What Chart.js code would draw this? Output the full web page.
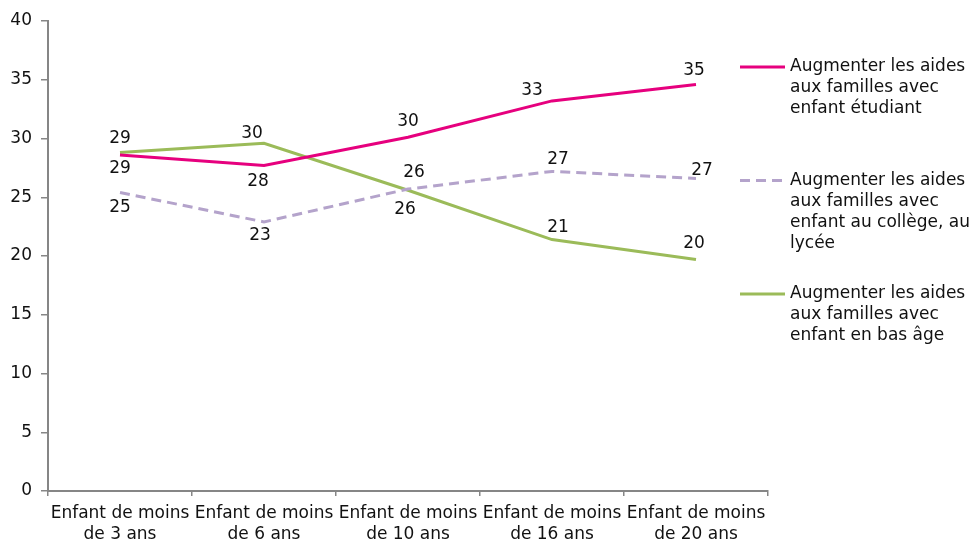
<!DOCTYPE html>
<html>
<head>
<meta charset="utf-8">
<script src="https://cdn.jsdelivr.net/npm/chart.js@4.4.0/dist/chart.umd.min.js"></script>
<style>
  html, body { margin: 0; padding: 0; background: #fff; }
  #wrap { width: 972px; height: 543px; }
</style>
</head>
<body>
<div id="wrap"><canvas id="chart_1" width="972" height="543"></canvas></div>
<script>
// data
const categories = [
    ['Enfant de moins', 'de 3 ans'],
    ['Enfant de moins', 'de 6 ans'],
    ['Enfant de moins', 'de 10 ans'],
    ['Enfant de moins', 'de 16 ans'],
    ['Enfant de moins', 'de 20 ans']
];
const etudiant = [28.6, 27.7, 30.1, 33.2, 34.6];
const college = [25.4, 22.9, 25.7, 27.2, 26.6];
const basAge = [28.8, 29.6, 25.6, 21.4, 19.7];
const seriesNames = [
    ['Augmenter les aides', 'aux familles avec', 'enfant étudiant'],
    ['Augmenter les aides', 'aux familles avec', 'enfant au collège, au', 'lycée'],
    ['Augmenter les aides', 'aux familles avec', 'enfant en bas âge']
];
const yMax = 40, yStep = 5;

const FONT = '"DejaVu Sans", Verdana, sans-serif';
const FSIZE = 17;
const axisColor = '#868686';

// label offsets (dx, dy) from each point
const labelOffsets = [
    [[0, 14], [-6, 16], [0, -16], [-20, -10], [-2, -14]],
    [[0, 15], [-4, 14], [6, -16], [6, -12], [6, -8]],
    [[0, -14], [-12, -10], [-3, 19], [6, -12], [-2, -16]]
];

// value labels drawn on the points
const valueLabels = {
    id: 'valueLabels',
    afterDatasetsDraw(chart) {
        const ctx = chart.ctx;
        ctx.save();
        ctx.font = FSIZE + 'px ' + FONT;
        ctx.fillStyle = '#111';
        ctx.textAlign = 'center';
        ctx.textBaseline = 'middle';
        chart.data.datasets.forEach((ds, d) => {
            chart.getDatasetMeta(d).data.forEach((pt, i) => {
                const off = labelOffsets[d][i];
                ctx.fillText(Math.round(ds.data[i]), pt.x + off[0], pt.y + off[1]);
            });
        });
        ctx.restore();
    }
};

// legend on the right with wrapped text
const sideLegend = {
    id: 'sideLegend',
    afterDraw(chart) {
        const ctx = chart.ctx;
        ctx.save();
        ctx.font = FSIZE + 'px ' + FONT;
        ctx.textBaseline = 'middle';
        ctx.textAlign = 'left';
        chart.data.datasets.forEach((ds, d) => {
            const y0 = 67 + d * 113.5;
            ctx.strokeStyle = ds.borderColor;
            ctx.lineWidth = 3;
            ctx.setLineDash(ds.borderDash || []);
            ctx.beginPath();
            ctx.moveTo(740, y0);
            ctx.lineTo(785, y0);
            ctx.stroke();
            ctx.setLineDash([]);
            ctx.fillStyle = '#111';
            seriesNames[d].forEach((line, k) => {
                ctx.fillText(line, 790, y0 + k * 21);
            });
        });
        ctx.restore();
    }
};

new Chart(document.getElementById('chart_1'), {
    type: 'line',
    data: {
        labels: categories,
        datasets: [
            {
                label: seriesNames[0].join(' '),
                data: etudiant,
                borderColor: '#E6007E',
                borderWidth: 3,
                pointRadius: 0,
                tension: 0
            },
            {
                label: seriesNames[1].join(' '),
                data: college,
                borderColor: '#B4A3CB',
                borderWidth: 3,
                borderDash: [10, 6],
                pointRadius: 0,
                tension: 0
            },
            {
                label: seriesNames[2].join(' '),
                data: basAge,
                borderColor: '#9BBB59',
                borderWidth: 3,
                pointRadius: 0,
                tension: 0
            }
        ]
    },
    options: {
        responsive: false,
        animation: false,
        layout: { padding: { top: 21, right: 204, left: 0, bottom: 0 } },
        plugins: {
            legend: { display: false },
            tooltip: { enabled: false }
        },
        scales: {
            x: {
                offset: true,
                grid: {
                    offset: true,
                    drawOnChartArea: false,
                    drawTicks: true,
                    tickLength: 5,
                    color: axisColor,
                    lineWidth: 1.5
                },
                border: { color: axisColor, width: 2 },
                ticks: {
                    font: { family: FONT, size: FSIZE, lineHeight: 1.18 },
                    color: '#111',
                    padding: 8,
                    maxRotation: 0,
                    autoSkip: false
                },
                afterFit(scale) { scale.height = 52; }
            },
            y: {
                min: 0,
                max: yMax,
                grid: {
                    drawOnChartArea: false,
                    drawTicks: true,
                    tickLength: 7,
                    color: axisColor,
                    lineWidth: 1.5
                },
                border: { color: axisColor, width: 2 },
                ticks: {
                    stepSize: yStep,
                    font: { family: FONT, size: FSIZE },
                    color: '#111',
                    padding: 9
                },
                afterFit(scale) { scale.width = 48; }
            }
        }
    },
    plugins: [valueLabels, sideLegend]
});
</script>
</body>
</html>
